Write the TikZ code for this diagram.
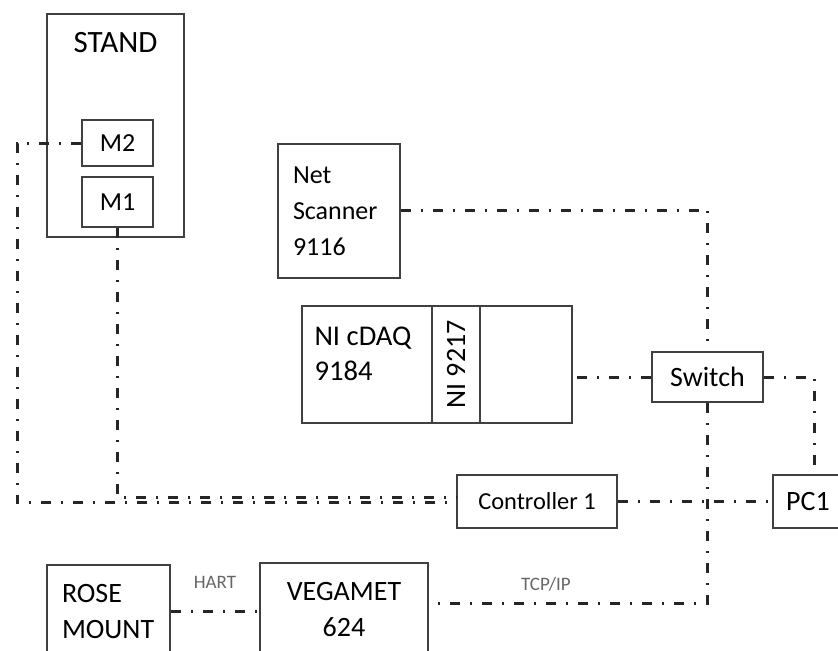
\documentclass[tikz,border=0pt]{standalone}
\usepackage{fontspec}
\setmainfont{Carlito}
\usetikzlibrary{positioning}
\tikzset{
  unit/.style={rectangle,draw=black!75,line width=0.9pt,inner sep=0pt,
               font=\fontsize{14}{18}\selectfont},
  link/.style={line width=1.5pt,color=black!85,
               dash pattern=on 5pt off 5pt on 1pt off 5pt},
  tag/.style={font=\fontsize{9.5}{10}\selectfont,text=black!60},
}

\begin{document}
\begin{tikzpicture}[x=0.5pt,y=-0.5pt]

  \useasboundingbox (0,0) rectangle (838,650);
  \clip (0,0) rectangle (838,650);

  % stand with its two meters
  \node[unit,minimum width=68.5pt,minimum height=111.5pt,
        label={[anchor=north,inner sep=0pt,yshift=-9.5pt,
                font=\fontsize{15.5}{18}\selectfont]north:STAND}]
    (stand) at (115.5,125.5) {};
  \node[unit,minimum width=35.5pt,minimum height=23pt,
        font=\fontsize{13}{18}\selectfont] (m2) at (117.5,143) {M2};
  \node[unit,minimum width=35.5pt,minimum height=25pt,
        font=\fontsize{13}{18}\selectfont] (m1) at (117.5,202) {M1};

  % acquisition
  \node[unit,minimum width=61pt,minimum height=67pt,inner xsep=7.5pt,
        text width=46pt,align=left,font=\fontsize{13}{18}\selectfont]
    (scanner) at (339,211) {Net\\Scanner\\9116};
  \node[unit,minimum width=65pt,minimum height=58.5pt,
        label={[anchor=north west,align=left,inner sep=0pt,
                xshift=6.5pt,yshift=-10.5pt,
                font=\fontsize{14.3}{17.5}\selectfont]north west:NI cDAQ\\9184}]
    (cdaq) at (367,364.5) {};
  \node[unit,rotate=90,minimum width=58.5pt,minimum height=24pt]
    (module) at (456,364.5) {NI 9217};
  \node[unit,minimum width=46pt,minimum height=58.5pt] (slot) at (526,364.5) {};

  % network
  \node[unit,minimum width=55.5pt,minimum height=25pt] (switch) at (707.5,377) {Switch};
  \node[unit,minimum width=80pt,minimum height=26.5pt,
        font=\fontsize{12.2}{14}\selectfont] (ctrl) at (537,501.5) {Controller 1};
  \node[unit,minimum width=35pt,minimum height=26.5pt] (pc) at (808,501.5) {PC1};

  % level sensors
  \node[unit,minimum width=61.5pt,minimum height=46pt,inner xsep=7.5pt,
        text width=46.5pt,align=left] (rose) at (108.5,611) {ROSE\\MOUNT};
  \node[unit,minimum width=84pt,minimum height=46pt,align=center]
    (vegamet) at (344,609) {VEGAMET\\624};

  \coordinate (leftbus) at (17,502.5);

  % connections
  \draw[link] (m2.west) -| (leftbus) -- (leftbus -| ctrl.west);
  \draw[link] (m1.south) |- ([yshift=2pt]ctrl.west);
  \draw[link] (scanner.east |- 0,210) -| (switch.north);
  \draw[link] (switch.west) -- (switch.west -| slot.east);
  \draw[link] (switch.east) -| ([xshift=3pt]pc.north);
  \draw[link] (ctrl.east) -- (pc.west);
  \draw[link] (switch.south) |- ([yshift=3pt]vegamet.east)
    node[tag,above,pos=0.79,yshift=2pt] {TCP/IP};
  \draw[link] (rose.east) -- (rose.east -| vegamet.west)
    node[tag,above,midway,yshift=7pt] {HART};

\end{tikzpicture}
\end{document}
